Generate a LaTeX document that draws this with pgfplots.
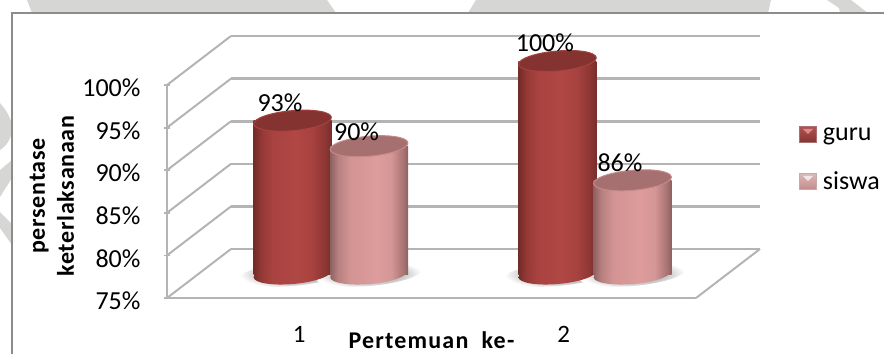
\documentclass[border=0pt]{standalone}
\usepackage{pgfplots}
\pgfplotsset{compat=1.18}
\usetikzlibrary{shapes.geometric}
\usepackage{fontspec}
\setmainfont{Carlito}
\definecolor{wmark}{HTML}{D6D6D5}
\definecolor{framec}{HTML}{8C8C8C}
\definecolor{wallc}{HTML}{B4B4B4}
\definecolor{topred}{HTML}{853331}
\definecolor{rimred}{HTML}{A54341}
\definecolor{toppink}{HTML}{A67070}
\definecolor{rimpink}{HTML}{C48A8A}
% cylinder surfaces: dark rims, flat lit middle
\pgfdeclarehorizontalshading{cylred}{100bp}{
 rgb(0bp)=(0.45,0.17,0.16); rgb(25bp)=(0.45,0.17,0.16); rgb(30bp)=(0.58,0.22,0.21);
 rgb(37bp)=(0.66,0.26,0.25); rgb(52bp)=(0.69,0.28,0.27); rgb(62bp)=(0.66,0.26,0.25);
 rgb(71bp)=(0.55,0.21,0.20); rgb(75bp)=(0.46,0.18,0.17); rgb(100bp)=(0.46,0.18,0.17)}
\pgfdeclarehorizontalshading{cylpink}{100bp}{
 rgb(0bp)=(0.55,0.38,0.38); rgb(25bp)=(0.55,0.38,0.38); rgb(30bp)=(0.72,0.50,0.50);
 rgb(38bp)=(0.83,0.58,0.58); rgb(55bp)=(0.87,0.61,0.61); rgb(64bp)=(0.84,0.59,0.59);
 rgb(72bp)=(0.66,0.45,0.45); rgb(75bp)=(0.55,0.38,0.38); rgb(100bp)=(0.55,0.38,0.38)}
\pgfplotsset{
  plane/.style={
    scale only axis, width=529pt, height=213pt,
    xmin=0.5, xmax=2.5, ymin=75, ymax=100, clip=false,
    /pgf/number format/assume math mode=true,
  },
  % the cylinders stand midway between the front plane and the rear wall
  midplane/.style={plane, at={(199pt,80pt)},
    axis line style={draw=none}, xtick=\empty, ytick=\empty},
  % an ellipse centred on each data point: cylinder caps and floor shadows
  disc/.style={forget plot, only marks, mark=none, point meta=y,
    nodes near coords={}, nodes near coords align={anchor=center},
    every node near coord/.append style={ellipse, inner sep=0pt, outer sep=0pt,
      minimum width=78pt, minimum height=20pt, rotate=5, #1}},
  body/.style={forget plot, ybar, bar width=78pt, bar shift=0pt, draw=none, shading=#1},
  valuelabel/.style={forget plot, only marks, mark=none, point meta=y,
    nodes near coords={\pgfmathprintnumber[precision=0]{\pgfplotspointmeta}\%},
    nodes near coords align={anchor=center,xshift=-12.5pt,yshift=#1},
    every node near coord/.append style={font=\fontsize{26}{28}\selectfont,black}},
}
\newcommand{\legendcyl}[4]{%
  \path[top color=#1,bottom color=#2,draw=#4,line width=0.8pt] (0pt,-8pt) rectangle (17pt,8pt);
  \fill[#3] (4pt,5.5pt) -- (13pt,5.5pt) -- (8.5pt,1pt) -- cycle;}
\begin{document}
\begin{tikzpicture}[x=1pt,y=1pt]
\path[use as bounding box] (0,0) rectangle (884,354);
% faint backdrop shapes around the chart frame
\fill[wmark] (27,354) -- (327,354) -- (336,341) -- (32,341) -- cycle;
\fill[wmark] (476,354) -- (771,354) -- (768,341) -- (468,341) -- cycle;
\fill[wmark] (827,354) -- (851,354) -- (868,341) -- (840,341) -- (839,346) -- cycle;
\fill[wmark] (0,251) .. controls (6,244) and (12,235) .. (12,226) .. controls (12,215) and (6,208) .. (0,204) -- cycle;
\fill[wmark] (0,184) -- (12,194) -- (12,176) -- (0,157) -- cycle;
\fill[wmark] (0,142) -- (12,130) -- (12,109) -- (0,126) -- cycle;
% chart frame, open to the right and below
\draw[framec,line width=1.5pt] (12,0) -- (12,341) -- (884,341);

% rear wall gridlines
\begin{axis}[plane, at={(231pt,105pt)},
  axis line style={draw=none}, xtick=\empty, ytick={75,80,...,100}, yticklabels={},
  major tick length=0pt, ymajorgrids,
  grid style={wallc,line width=2.6pt}]
\end{axis}

% front plane: value axis, category labels, side wall and floor edges
\begin{axis}[plane, at={(167pt,56pt)},
  axis y line=left, axis x line=bottom,
  axis line style={wallc,line width=2.6pt,-},
  xtick={1,2}, xticklabels={1,2}, ytick={75,80,...,100},
  yticklabels={75\%,80\%,85\%,90\%,95\%,100\%},
  tick style={wallc,line width=1.8pt},
  xtick style={draw=none},
  y tick label style={font=\fontsize{26}{28}\selectfont,yshift=-3pt,xshift=-20pt,anchor=east},
  x tick label style={font=\fontsize{25}{28}\selectfont,anchor=center,yshift=-33pt},
  major tick length=6pt,
  xlabel={Pertemuan\ \ ke-},
  xlabel style={at={(axis description cs:0.5,-0.197)},anchor=center,
    font=\fontsize{24}{28}\bfseries\selectfont\addfontfeatures{LetterSpace=5}},
  ylabel={persentase\\keterlaksanaan},
  ylabel style={at={(axis description cs:-0.2174,0.479)},anchor=center,align=center,
    font=\fontsize{24}{29}\bfseries\selectfont\addfontfeatures{LetterSpace=3}},
  ]
  \pgfplotsinvokeforeach{75,80,...,100}{
    \draw[wallc,line width=2pt] (axis cs:0.5,#1) -- ++(64pt,49pt);
  }
  \draw[wallc,line width=2pt] (axis cs:2.5,75) -- ++(64pt,49pt);
\end{axis}

% soft shadows on the floor under the cylinders
\begin{axis}[midplane]
  \addplot[disc={minimum width=106pt,minimum height=24pt,inner color=black!60,outer color=white}]
    coordinates {(0.8535,75)(1.143,75)(1.855,75)(2.139,75)};
\end{axis}

% guru
\begin{axis}[midplane]
  \addplot[body=cylred] coordinates {(0.8535,93)};
  \addplot[body=cylred] coordinates {(1.855,100)};
  \addplot[disc={shading=cylred}] coordinates {(0.8535,75)(1.855,75)};
  \addplot[disc={fill=topred,draw=rimred,line width=1pt}] coordinates {(0.8535,93)(1.855,100)};
\end{axis}

% siswa, in front of guru; value labels and legend on top
\begin{axis}[midplane,
  legend style={at={(1.134,0.695)},anchor=north west,draw=none,fill=none,
    inner sep=0pt,row sep=29pt,
    font=\fontsize{26}{28}\selectfont,
    nodes={inner sep=0pt,anchor=west},
    /tikz/column 1/.style={column sep=6pt}},
  legend cell align=left,
  ]
  \addplot[body=cylpink] coordinates {(1.143,90)};
  \addplot[body=cylpink] coordinates {(2.139,86)};
  \addplot[disc={shading=cylpink}] coordinates {(1.143,75)(2.139,75)};
  \addplot[disc={fill=toppink,draw=rimpink,line width=1pt}] coordinates {(1.143,90)(2.139,86)};
  \addplot[valuelabel=18pt] coordinates {(0.8535,93)(1.855,100)(2.139,86)};
  \addplot[valuelabel=14pt] coordinates {(1.143,90)};
  \addlegendimage{legend image code/.code={\legendcyl{rimred!90!white}{topred}{red!35!white!70!rimred}{topred!70!white}}}
  \addlegendentry{guru}
  \addlegendimage{legend image code/.code={\legendcyl{rimpink!60!white}{rimpink}{white!80!rimpink}{toppink!60!white}}}
  \addlegendentry{siswa}
\end{axis}
\end{tikzpicture}
\end{document}
